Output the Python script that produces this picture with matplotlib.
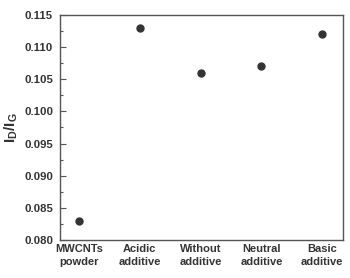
import numpy as np
import matplotlib
matplotlib.use("Agg")
from matplotlib import pyplot as plt
from matplotlib.ticker import MultipleLocator

# data
samples = ["MWCNTs\npowder", "Acidic\nadditive", "Without\nadditive",
           "Neutral\nadditive", "Basic\nadditive"]
id_ig = [0.083, 0.113, 0.106, 0.107, 0.112]

plt.rcParams['font.family'] = ['Liberation Sans', 'DejaVu Sans']
plt.rcParams['font.weight'] = 'bold'

fig = plt.figure(figsize=(3.5, 2.78), dpi=100)
ax = fig.add_axes([60/350, 1 - 240/278, 283/350, 225/278])

x = np.arange(len(samples))
ax.plot(x, id_ig, 'o', color='#333333', markersize=5, linestyle='none')

ax.set_xlim(-0.31, 4.34)
ax.set_ylim(0.080, 0.115)
ax.yaxis.set_major_locator(MultipleLocator(0.005))
ax.yaxis.set_minor_locator(MultipleLocator(0.0025))
ax.set_xticks(x)
ax.set_xticklabels(samples, fontsize=8, fontweight='bold', color='#333333',
                   linespacing=1.3)
ax.tick_params(axis='x', length=0, pad=3)
ax.tick_params(axis='y', which='major', direction='in', length=4, width=0.8,
               labelsize=8.2, colors='#555555', labelcolor='#333333', pad=5)
ax.tick_params(axis='y', which='minor', direction='in', length=2, width=0.8,
               colors='#555555')
ax.yaxis.set_major_formatter(matplotlib.ticker.FormatStrFormatter('%.3f'))
for s in ax.spines.values():
    s.set_color('#555555')
    s.set_linewidth(1.0)

ax.set_ylabel(r'I$_\mathregular{D}$/I$_\mathregular{G}$', fontsize=11,
              fontweight='bold', color='#333333', labelpad=3)

fig.savefig('out.png', dpi=100)
